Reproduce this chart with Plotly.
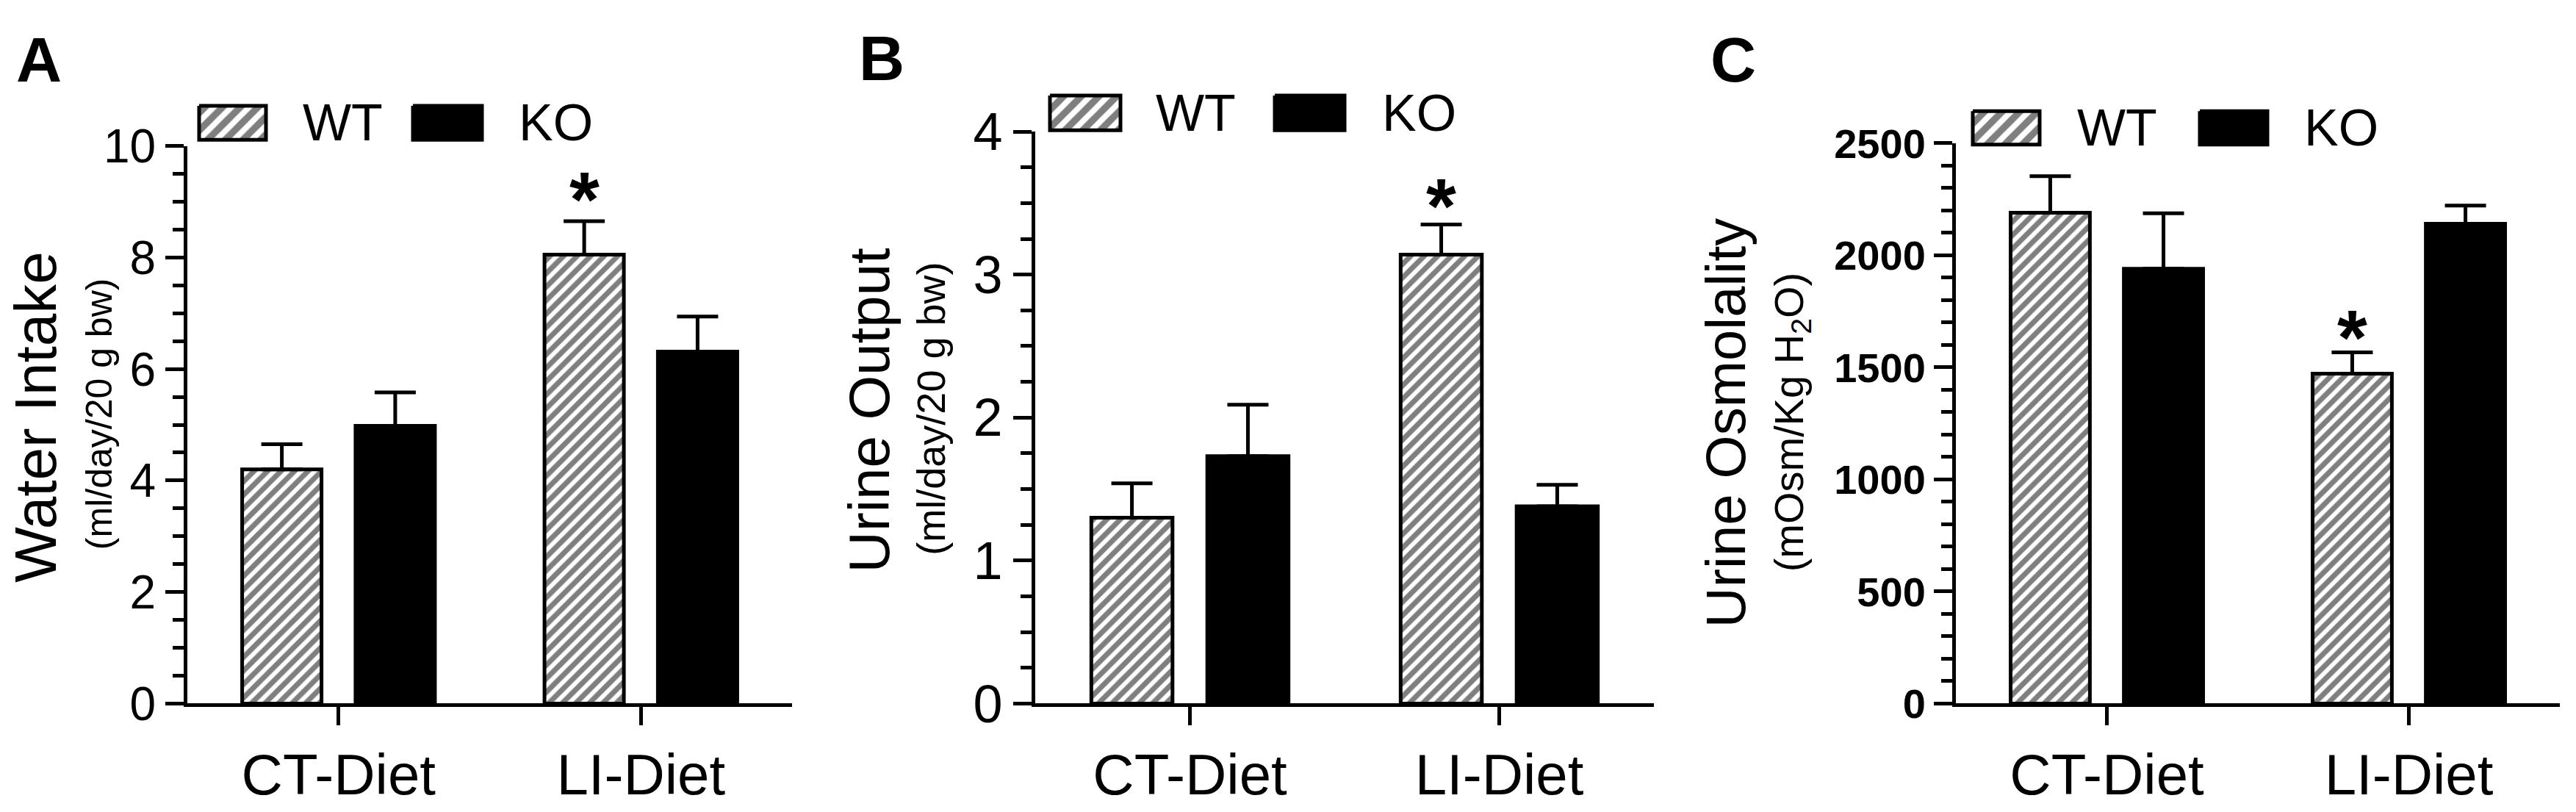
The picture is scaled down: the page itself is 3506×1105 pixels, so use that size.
import plotly.graph_objects as go

W, H = 3506, 1105
FONT = "Liberation Sans, Arial, Helvetica, sans-serif"

# ---------------- data ----------------
categories = ["CT-Diet", "LI-Diet"]
series_names = ["WT", "KO"]

water_wt = [4.20, 8.05]
water_wt_err = [0.45, 0.60]
water_ko = [4.98, 6.31]
water_ko_err = [0.60, 0.63]

urine_wt = [1.30, 3.14]
urine_wt_err = [0.24, 0.21]
urine_ko = [1.73, 1.38]
urine_ko_err = [0.36, 0.15]

osmo_wt = [2190, 1472]
osmo_wt_err = [163, 95]
osmo_ko = [1940, 2141]
osmo_ko_err = [247, 81]

yticks_water = [0, 2, 4, 6, 8, 10]
yticks_urine = [0, 1, 2, 3, 4]
yticks_osmo = [0, 500, 1000, 1500, 2000, 2500]

panel_letters = ["A", "B", "C"]
ytitles = ["Water Intake", "Urine Output", "Urine Osmolality"]
ysubtitles = ["(ml/day/20 g bw)", "(ml/day/20 g bw)", "(mOsm/Kg H<sub>2</sub>O)"]
star_label = "*"

# ---------------- layout (pixel geometry) ----------------
panels = [
    dict(wt=water_wt, wt_err=water_wt_err, ko=water_ko, ko_err=water_ko_err,
         ticks=yticks_water, minor=0.5, x0=255, x1=1078, ytop=171, yzero=989,
         tickfont=dict(size=64, family=FONT, color="black"),
         letter_xy=(53, 44), title_xy=(49, 569), title_size=80,
         sub_xy=(135, 564), sub_size=50,
         leg=dict(wt=(271, 112, 362, 162), ko=(562, 112, 656, 162), wt_text=410, ko_text=704),
         star_shift=30),
    dict(wt=urine_wt, wt_err=urine_wt_err, ko=urine_ko, ko_err=urine_ko_err,
         ticks=yticks_urine, minor=0.25, x0=1409, x1=2251, ytop=150, yzero=989,
         tickfont=dict(size=72, family=FONT, color="black"),
         letter_xy=(1200, 42), title_xy=(1183, 559), title_size=78,
         sub_xy=(1267, 557), sub_size=54,
         leg=dict(wt=(1429, 97, 1525, 148), ko=(1735, 97, 1830, 148), wt_text=1571, ko_text=1879),
         star_shift=25),
    dict(wt=osmo_wt, wt_err=osmo_wt_err, ko=osmo_ko, ko_err=osmo_ko_err,
         ticks=yticks_osmo, minor=100, x0=2662, x1=3484, ytop=167, yzero=989,
         tickfont=dict(size=56, family=FONT, color="black", weight="bold"),
         letter_xy=(2359, 44), title_xy=(2348, 578), title_size=76,
         sub_xy=(2438, 576), sub_size=56,
         leg=dict(wt=(2685, 120, 2776, 169), ko=(2994, 120, 3086, 169), wt_text=2825, ko_text=3134),
         star_shift=20),
]


def px_x(x):
    return x / W


def px_y(y):
    return 1 - y / H


BAR_LINE = 5
HATCH = dict(shape="/", fgcolor="black", bgcolor="white", size=13, solidity=0.55)
HATCH_LEG = dict(shape="/", fgcolor="black", bgcolor="white", size=17, solidity=0.55)

fig = go.Figure()
layout_axes = {}
annotations = []

for i, p in enumerate(panels):
    sfx = "" if i == 0 else str(i + 1)
    xa, ya = "x" + sfx, "y" + sfx
    err_style = dict(type="data", symmetric=False, color="black", thickness=5, width=28)
    fig.add_trace(go.Bar(
        x=categories, y=p["wt"], name=series_names[0], xaxis=xa, yaxis=ya,
        marker=dict(color="white", line=dict(color="black", width=BAR_LINE), pattern=HATCH),
        error_y=dict(array=p["wt_err"], arrayminus=[0] * len(p["wt"]), **err_style),
        showlegend=False, hoverinfo="skip"))
    fig.add_trace(go.Bar(
        x=categories, y=p["ko"], name=series_names[1], xaxis=xa, yaxis=ya,
        marker=dict(color="black", line=dict(color="black", width=BAR_LINE)),
        error_y=dict(array=p["ko_err"], arrayminus=[0] * len(p["ko"]), **err_style),
        showlegend=False, hoverinfo="skip"))

    layout_axes["xaxis" + sfx] = dict(
        domain=[px_x(p["x0"]), px_x(p["x1"])], anchor=ya, range=[-0.5, 1.5],
        type="category", showline=True, linecolor="black", linewidth=5,
        ticks="outside", ticklen=25, tickwidth=5, tickcolor="black",
        tickfont=dict(size=78, family=FONT, color="black"),
        showgrid=False, zeroline=False, fixedrange=True)
    layout_axes["yaxis" + sfx] = dict(
        domain=[px_y(p["yzero"]), px_y(p["ytop"])], anchor=xa,
        range=[0, p["ticks"][-1]], tickvals=p["ticks"],
        showline=True, linecolor="black", linewidth=5,
        ticks="outside", ticklen=25, tickwidth=5, tickcolor="black",
        tickfont=p["tickfont"],
        minor=dict(dtick=p["minor"], ticks="outside", ticklen=15, tickwidth=5,
                   tickcolor="black", showgrid=False),
        showgrid=False, zeroline=False, fixedrange=True)

    # panel letter
    annotations.append(dict(text="<b>%s</b>" % panel_letters[i], x=px_x(p["letter_xy"][0]),
                            y=px_y(p["letter_xy"][1]), xref="paper", yref="paper",
                            xanchor="center", yanchor="middle", showarrow=False,
                            font=dict(size=86, family=FONT, color="black")))
    # y titles
    annotations.append(dict(text=ytitles[i], x=px_x(p["title_xy"][0]), y=px_y(p["title_xy"][1]),
                            xref="paper", yref="paper", xanchor="center", yanchor="middle",
                            textangle=-90, showarrow=False,
                            font=dict(size=p["title_size"], family=FONT, color="black")))
    annotations.append(dict(text=ysubtitles[i], x=px_x(p["sub_xy"][0]), y=px_y(p["sub_xy"][1]),
                            xref="paper", yref="paper", xanchor="center", yanchor="middle",
                            textangle=-90, showarrow=False,
                            font=dict(size=p["sub_size"], family=FONT, color="black")))
    # significance star above WT LI-Diet bar
    annotations.append(dict(text="<b>%s</b>" % star_label, x=1 - 0.1875,
                            y=p["wt"][1] + p["wt_err"][1], xref=xa, yref=ya,
                            xanchor="center", yanchor="middle", yshift=p["star_shift"],
                            showarrow=False, font=dict(size=105, family=FONT, color="black")))

    # legend swatches (drawn on overlay pixel axis) + legend labels
    leg = p["leg"]
    for key, name, fillc, patt in (("wt", series_names[0], "white", HATCH_LEG),
                                    ("ko", series_names[1], "black", None)):
        x0, y0, x1, y1 = leg[key]
        tr = dict(x=[x0, x1, x1, x0, x0], y=[y0, y0, y1, y1, y0], mode="lines",
                  fill="toself", fillcolor=fillc, line=dict(color="black", width=5),
                  xaxis="x4", yaxis="y4", showlegend=False, hoverinfo="skip", name=name)
        if patt:
            tr["fillpattern"] = patt
        fig.add_trace(go.Scatter(**tr))
        annotations.append(dict(text=name, x=px_x(leg[key + "_text"]), y=px_y((y0 + y1) / 2),
                                xref="paper", yref="paper", xanchor="left", yanchor="middle",
                                showarrow=False, font=dict(size=70, family=FONT, color="black")))

layout_axes["xaxis4"] = dict(domain=[0, 1], range=[0, W], visible=False, fixedrange=True, anchor="y4")
layout_axes["yaxis4"] = dict(domain=[0, 1], range=[H, 0], visible=False, fixedrange=True, anchor="x4")

fig.update_layout(
    width=W, height=H, autosize=False,
    margin=dict(l=0, r=0, t=0, b=0),
    paper_bgcolor="white", plot_bgcolor="rgba(0,0,0,0)",
    barmode="group", bargap=0.25, bargroupgap=0.3,
    font=dict(family=FONT, color="black"),
    annotations=annotations,
    showlegend=False,
    **layout_axes,
)

fig.write_html("out.html", config={"displayModeBar": False, "staticPlot": True},
               post_script="document.body.style.margin='0';")
